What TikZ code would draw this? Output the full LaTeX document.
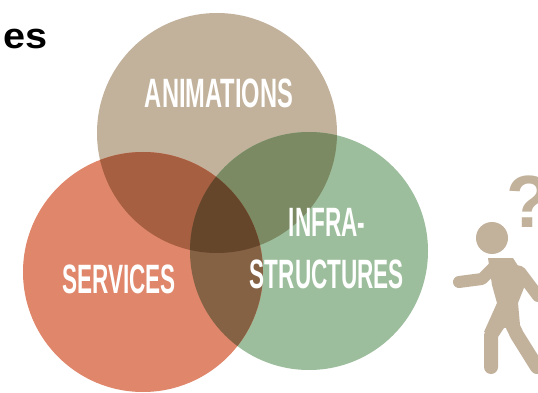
\documentclass[tikz,border=0pt]{standalone}
\usepackage{fontspec}
\setmainfont{Liberation Sans}
\definecolor{tanc}{HTML}{C2B29C}
\definecolor{redc}{HTML}{DF866B}
\definecolor{greenc}{HTML}{9DBE9C}
\definecolor{tanred}{HTML}{A65F40}
\definecolor{tangreen}{HTML}{7B8A63}
\definecolor{redgreen}{HTML}{866245}
\definecolor{allthree}{HTML}{65462B}
\newcommand{\tancircle}{(217,133) circle (120)}
\newcommand{\redcircle}{(143,272) circle (120)}
\newcommand{\greencircle}{(309,251) circle (119)}
\tikzset{
  vennlabel/.style={text=white, font=\bfseries\fontsize{41}{52}\selectfont, align=center, inner sep=0pt, xscale=0.55, transform shape},
  limb/.style={draw=tanc, line width=14, line cap=round, line join=round}
}
\begin{document}
\begin{tikzpicture}[x=1pt, y=-1pt]
  \clip (0,0) rectangle (538,393);
  \fill[white] (0,0) rectangle (538,393);

  \fill[tanc] \tancircle;
  \fill[greenc] \greencircle;
  \fill[redc] \redcircle;

  \begin{scope}
    \clip \tancircle;
    \fill[tangreen] \greencircle;
    \fill[tanred] \redcircle;
  \end{scope}
  \begin{scope}
    \clip \redcircle;
    \fill[redgreen] \greencircle;
  \end{scope}
  \begin{scope}
    \clip \tancircle;
    \clip \redcircle;
    \fill[allthree] \greencircle;
  \end{scope}

  \path (219,93) node[vennlabel, xscale=1.05] (animations) {ANIMATIONS};
  \path (119,279) node[vennlabel] (services) {SERVICES};
  \path (327,249) node[vennlabel] (infra) {INFRA-\\STRUCTURES};

  \path (26,39) node[font=\bfseries\fontsize{36}{40}\selectfont, inner sep=0pt, text=black, xscale=1.1, transform shape] (es) {es};

  % walking figure
  \path (492,238) node[circle, fill=tanc, minimum size=32, inner sep=0pt] (head) {};
  \draw[limb, line width=12] (459,282) -- (482,279) -- (495,266) -- (520,272) -- (538,296);
  \fill[tanc] (488,258) -- (513,258) -- (527,280) -- (518,303) -- (520,325) -- (484,332) -- (497,303) -- (492,285) -- cycle;
  \draw[limb] (491,367) -- (491,335) -- (506,312) -- (517,335) -- (537,367);
  \path (529,202) node[text=tanc, font=\bfseries\fontsize{74}{74}\selectfont, inner sep=0pt] (question) {?};
\end{tikzpicture}
\end{document}
